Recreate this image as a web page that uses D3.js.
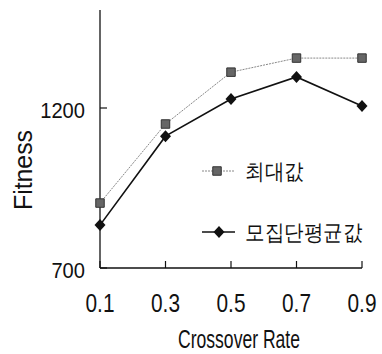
<!DOCTYPE html>
<html lang="ko">
<head>
<meta charset="UTF-8">
<script src="https://d3js.org/d3.v7.min.js"></script>
<style>
    body { margin: 0; background: #fff; }
    svg text { font-family: "Liberation Sans", Arial, sans-serif; fill: #111; }
</style>
</head>
<body>
<svg id="chart" width="382" height="354"></svg>
<script>
// chart data
const rates = [0.1, 0.3, 0.5, 0.7, 0.9];
const maxValues = [903, 1150, 1312, 1356, 1356];
const avgValues = [834, 1112, 1228, 1297, 1206];
const yTicks = [700, 1200];
const seriesNames = ['최대값', '모집단평균값'];

const svg = d3.select('#chart');
const margin = {top: 12, left: 100, right: 20, bottom: 86};
const width = 382, height = 354;

const x = d3.scaleLinear().domain([0.1, 0.9]).range([margin.left, width - margin.right]);
const y = d3.scaleLinear().domain([700, 1500]).range([height - margin.bottom, margin.top]);

// the original type is narrow, so squeeze text to a measured width
function narrow(sel, w) {
    return sel.attr('textLength', w).attr('lengthAdjust', 'spacingAndGlyphs');
}

// axes
svg.append('line')
    .attr('x1', x(0.1)).attr('x2', x(0.1))
    .attr('y1', y(1500) - 2).attr('y2', y(700))
    .attr('stroke', '#111').attr('stroke-width', 1.3);
svg.append('line')
    .attr('x1', x(0.1)).attr('x2', x(0.9))
    .attr('y1', y(700)).attr('y2', y(700))
    .attr('stroke', '#111').attr('stroke-width', 1.3);

// x ticks point up into the plot
svg.selectAll('.xtick').data(rates).enter().append('line')
    .attr('x1', d => x(d)).attr('x2', d => x(d))
    .attr('y1', y(700)).attr('y2', y(700) - 7)
    .attr('stroke', '#111').attr('stroke-width', 1.2);
svg.selectAll('.xlabel').data(rates).enter().append('text')
    .attr('x', d => x(d)).attr('y', 312)
    .attr('text-anchor', 'middle')
    .attr('font-size', 25)
    .text(d => d.toFixed(1))
    .call(narrow, 29);

// y ticks point right into the plot
svg.selectAll('.ytick').data(yTicks).enter().append('line')
    .attr('x1', x(0.1)).attr('x2', x(0.1) + 7)
    .attr('y1', d => y(d)).attr('y2', d => y(d))
    .attr('stroke', '#111').attr('stroke-width', 1.2);
svg.selectAll('.ylabel').data(yTicks).enter().append('text')
    .attr('x', 85).attr('y', d => y(d) + 10)
    .attr('text-anchor', 'end')
    .attr('font-size', 22)
    .text(d => d)
    .each(function(d) { d3.select(this).call(narrow, String(d).length * 11.2); });

// axis titles
svg.append('text')
    .attr('x', 239).attr('y', 348)
    .attr('text-anchor', 'middle')
    .attr('font-size', 25)
    .text('Crossover Rate')
    .call(narrow, 122);
svg.append('text')
    .attr('transform', 'translate(32,170) rotate(-90)')
    .attr('text-anchor', 'middle')
    .attr('font-size', 25)
    .text('Fitness')
    .call(narrow, 80);

// series lines
const line = d3.line().x((d, i) => x(rates[i])).y(d => y(d));
svg.append('path').datum(maxValues)
    .attr('d', line).attr('fill', 'none')
    .attr('stroke', '#888').attr('stroke-width', 1)
    .attr('stroke-dasharray', '2,1');
svg.append('path').datum(avgValues)
    .attr('d', line).attr('fill', 'none')
    .attr('stroke', '#111').attr('stroke-width', 1.6);

// markers
const square = d3.symbol().type(d3.symbolSquare).size(72);
const diamond = 'M0,-6L5.5,0L0,6L-5.5,0Z';
svg.selectAll('.mmax').data(maxValues).enter().append('path')
    .attr('d', square)
    .attr('transform', (d, i) => `translate(${x(rates[i])},${y(d)})`)
    .attr('fill', '#666').attr('stroke', '#333').attr('stroke-width', 1);
svg.selectAll('.mavg').data(avgValues).enter().append('path')
    .attr('d', diamond)
    .attr('transform', (d, i) => `translate(${x(rates[i])},${y(d)})`)
    .attr('fill', '#111');

// legend
const legend = svg.append('g');
const legY = [171, 232];
legend.append('line')
    .attr('x1', 202).attr('x2', 234).attr('y1', legY[0]).attr('y2', legY[0])
    .attr('stroke', '#888').attr('stroke-width', 1).attr('stroke-dasharray', '2,1');
legend.append('path').attr('d', square)
    .attr('transform', `translate(217,${legY[0]})`)
    .attr('fill', '#666').attr('stroke', '#333');
legend.append('line')
    .attr('x1', 202).attr('x2', 235).attr('y1', legY[1]).attr('y2', legY[1])
    .attr('stroke', '#111').attr('stroke-width', 1.6);
legend.append('path').attr('d', diamond)
    .attr('transform', `translate(219,${legY[1]})`)
    .attr('fill', '#111');
legend.selectAll('text').data(seriesNames).enter().append('text')
    .attr('x', 245).attr('y', (d, i) => legY[i] + 8)
    .attr('font-family', '"Noto Sans CJK KR", sans-serif')
    .attr('font-size', 22)
    .attr('font-weight', 500)
    .text(d => d)
    .each(function(d) { d3.select(this).call(narrow, d.length * 19.5); });
</script>
</body>
</html>
